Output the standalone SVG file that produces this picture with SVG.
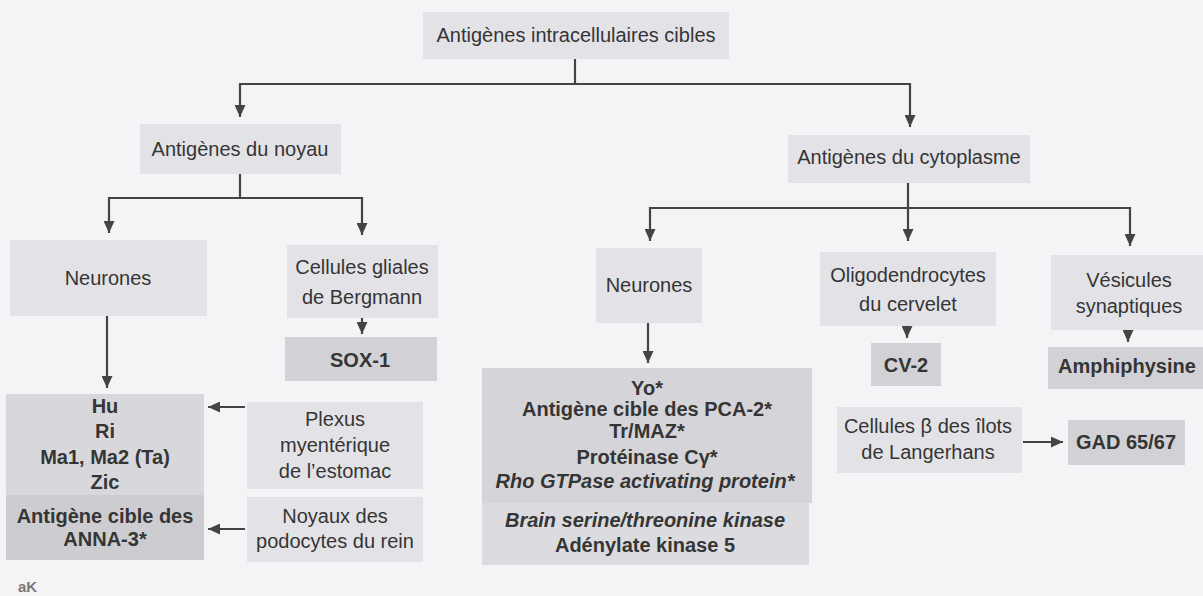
<svg xmlns="http://www.w3.org/2000/svg" width="1203" height="596" viewBox="0 0 1203 596">
<defs>
<marker id="ah" markerUnits="userSpaceOnUse" markerWidth="12" markerHeight="11" refX="12" refY="5.5" orient="auto">
<path d="M0,0 L12,5.5 L0,11 z" fill="#444"/>
</marker>
<style>
.t{font-family:"Liberation Sans",Arial,sans-serif;font-size:20px;fill:#353535;text-anchor:middle}
.b{font-weight:bold}
.i{font-style:italic}
.l{fill:#e3e3e7}
.m{fill:#d6d6da}
.d{fill:#d2d2d6}
.c{fill:none;stroke:#444;stroke-width:2.2}
</style>
</defs>
<rect width="1203" height="596" fill="#f4f4f6"/>
<g id="connectors">
<path class="c" d="M575,59 V84 H240 V117" marker-end="url(#ah)"/>
<path class="c" d="M575,84 H910 V127" marker-end="url(#ah)"/>
<path class="c" d="M240,174 V198 H109 V233" marker-end="url(#ah)"/>
<path class="c" d="M240,198 H362 V235" marker-end="url(#ah)"/>
<path class="c" d="M908,183 V241" marker-end="url(#ah)"/>
<path class="c" d="M908,208 H650 V241" marker-end="url(#ah)"/>
<path class="c" d="M908,208 H1130 V246" marker-end="url(#ah)"/>
<path class="c" d="M107,316 V388" marker-end="url(#ah)"/>
<path class="c" d="M362,318 V334" marker-end="url(#ah)"/>
<path class="c" d="M648,323 V363" marker-end="url(#ah)"/>
<path class="c" d="M907,326 V338" marker-end="url(#ah)"/>
<path class="c" d="M1128,330 V342" marker-end="url(#ah)"/>
<path class="c" d="M245,407 H208" marker-end="url(#ah)"/>
<path class="c" d="M245,529 H208" marker-end="url(#ah)"/>
<path class="c" d="M1023,442 H1063" marker-end="url(#ah)"/>
</g>
<g id="n-top"><rect class="l" x="423" y="12" width="306" height="47"/><text class="t" x="576" y="42">Antigènes intracellulaires cibles</text></g>
<g id="n-noyau"><rect class="l" x="140" y="124" width="201" height="50"/><text class="t" x="240" y="156">Antigènes du noyau</text></g>
<g id="n-cyto"><rect class="l" x="788" y="135" width="242" height="48"/><text class="t" x="909" y="164">Antigènes du cytoplasme</text></g>
<g id="n-neur1"><rect class="l" x="10" y="240" width="197" height="76"/><text class="t" x="108" y="285">Neurones</text></g>
<g id="n-berg"><rect class="l" x="287" y="245" width="151" height="73"/><text class="t" x="362" y="274">Cellules gliales</text><text class="t" x="362" y="304">de Bergmann</text></g>
<g id="n-neur2"><rect class="l" x="596" y="248" width="106" height="75"/><text class="t" x="649" y="292">Neurones</text></g>
<g id="n-oligo"><rect class="l" x="820" y="252" width="176" height="74"/><text class="t" x="908" y="282">Oligodendrocytes</text><text class="t" x="908" y="311">du cervelet</text></g>
<g id="n-vesic"><rect class="l" x="1051" y="255" width="152" height="75"/><text class="t" x="1129" y="287">Vésicules</text><text class="t" x="1129" y="313">synaptiques</text></g>
<g id="n-sox"><rect class="d" x="285" y="337" width="152" height="44"/><text class="t b" x="360" y="367">SOX-1</text></g>
<g id="n-hu">
<rect fill="#d8d8dc" x="6" y="394" width="198" height="101"/>
<rect fill="#cdcdd1" x="6" y="495" width="198" height="65"/>
<text class="t b" x="105" y="413">Hu</text>
<text class="t b" x="105" y="438">Ri</text>
<text class="t b" x="105" y="464">Ma1, Ma2 (Ta)</text>
<text class="t b" x="105" y="489">Zic</text>
<text class="t b" x="105" y="523">Antigène cible des</text>
<text class="t b" x="105" y="546">ANNA-3*</text>
</g>
<g id="n-plexus"><rect class="l" x="247" y="402" width="176" height="87"/><text class="t" x="335" y="426">Plexus</text><text class="t" x="335" y="452">myentérique</text><text class="t" x="335" y="478">de l’estomac</text></g>
<g id="n-noyaux"><rect class="l" x="247" y="497" width="176" height="65"/><text class="t" x="335" y="523">Noyaux des</text><text class="t" x="335" y="548">podocytes du rein</text></g>
<g id="n-yo">
<rect fill="#d5d5d9" x="482" y="368" width="330" height="135"/>
<rect fill="#dcdce0" x="482" y="503" width="327" height="62"/>
<text class="t b" x="647" y="395">Yo*</text>
<text class="t b" x="647" y="416">Antigène cible des PCA-2*</text>
<text class="t b" x="647" y="438">Tr/MAZ*</text>
<text class="t b" x="647" y="464">Protéinase Cγ*</text>
<text class="t b i" x="645" y="488">Rho GTPase activating protein*</text>
<text class="t b i" x="645" y="527">Brain serine/threonine kinase</text>
<text class="t b" x="645" y="552">Adénylate kinase 5</text>
</g>
<g id="n-cv2"><rect class="d" x="871" y="343" width="70" height="43"/><text class="t b" x="906" y="372">CV-2</text></g>
<g id="n-amph"><rect class="d" x="1048" y="347" width="155" height="42"/><text class="t b" x="1127" y="373">Amphiphysine</text></g>
<g id="n-beta"><rect class="l" x="837" y="407" width="185" height="66"/><text class="t" x="928" y="433">Cellules β des îlots</text><text class="t" x="928" y="459">de Langerhans</text></g>
<g id="n-gad"><rect class="d" x="1068" y="420" width="117" height="45"/><text class="t b" x="1126" y="449">GAD 65/67</text></g>
<text x="18" y="592" style="font-family:'Liberation Sans',Arial,sans-serif;font-size:15px;font-weight:bold;fill:#777">aK</text>
</svg>
